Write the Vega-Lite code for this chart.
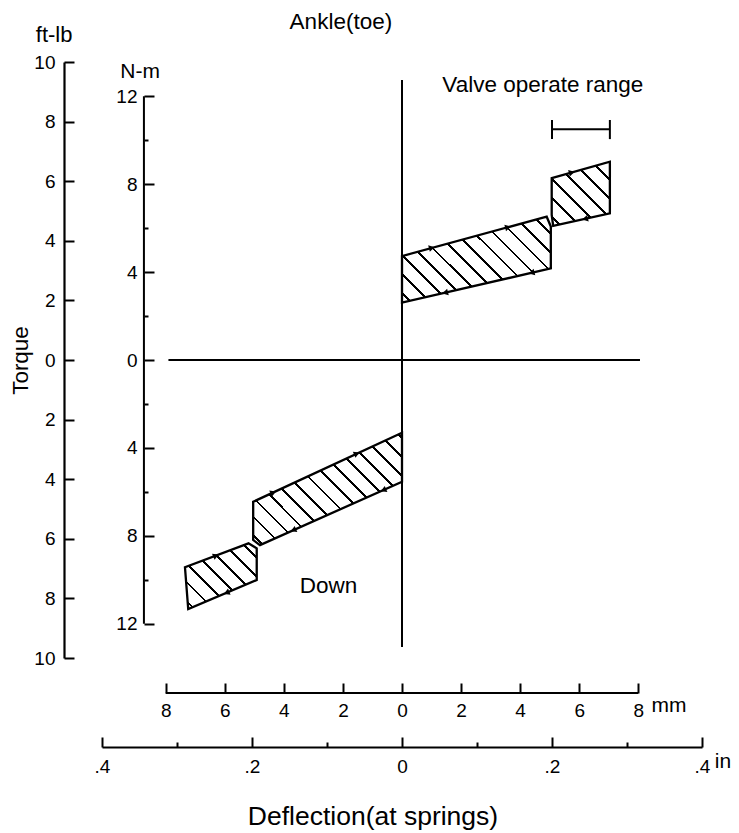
{
  "$schema": "https://vega.github.io/schema/vega-lite/v6.json",
  "width": 600,
  "height": 596,
  "autosize": {"type": "none"},
  "padding": {"left": 102, "top": 62, "right": 37, "bottom": 175},
  "background": "white",
  "config": {
    "view": {"stroke": null},
    "axis": {"labelFont": "Liberation Sans", "titleFont": "Liberation Sans", "labelColor": "black", "tickColor": "black", "domainColor": "black", "titleColor": "black", "grid": false, "titleFontWeight": "normal", "labelFontSize": 19, "domainWidth": 2.2, "tickWidth": 2, "labelFlush": false, "labelOverlap": false},
    "text": {"font": "Liberation Sans", "fontSize": 22.5, "color": "black"}
  },
  "datasets": {
    "segs": [
      {"part": "vertical axis", "x": 0, "y": 12.74, "x2": 0, "y2": -13.06},
      {"part": "zero torque", "x": -7.91, "y": 0, "x2": 8.06, "y2": 0},
      {"part": "N-m scale", "x": -8.74, "y": 12, "x2": -8.74, "y2": -12},
      {"part": "mm scale", "x": -8, "y": -15.15, "x2": 8, "y2": -15.15},
      {"part": "valve range", "x": 5.08, "y": 10.5, "x2": 7.04, "y2": 10.5},
      {"part": "valve start", "x": 5.08, "y": 10.92, "x2": 5.08, "y2": 10.05},
      {"part": "valve end", "x": 7.04, "y": 10.92, "x2": 7.04, "y2": 10.05}
    ],
    "polys": [
      {"band": "U1", "i": 0, "x": 0, "y": 2.61},
      {"band": "U1", "i": 1, "x": 0, "y": 4.73},
      {"band": "U1", "i": 2, "x": 4.9, "y": 6.52},
      {"band": "U1", "i": 3, "x": 5.04, "y": 6.07},
      {"band": "U1", "i": 4, "x": 5.04, "y": 4.17},
      {"band": "U2", "i": 0, "x": 5.07, "y": 8.27},
      {"band": "U2", "i": 1, "x": 7.04, "y": 9.02},
      {"band": "U2", "i": 2, "x": 7.04, "y": 6.67},
      {"band": "U2", "i": 3, "x": 5.12, "y": 6.1},
      {"band": "U2", "i": 4, "x": 5.07, "y": 6.6},
      {"band": "L1", "i": 0, "x": 0, "y": -3.31},
      {"band": "L1", "i": 1, "x": -5.04, "y": -6.45},
      {"band": "L1", "i": 2, "x": -5.04, "y": -8.19},
      {"band": "L1", "i": 3, "x": -4.81, "y": -8.42},
      {"band": "L1", "i": 4, "x": 0, "y": -5.54},
      {"band": "L2", "i": 0, "x": -5.2, "y": -8.34},
      {"band": "L2", "i": 1, "x": -7.35, "y": -9.43},
      {"band": "L2", "i": 2, "x": -7.24, "y": -11.33},
      {"band": "L2", "i": 3, "x": -4.92, "y": -10.01},
      {"band": "L2", "i": 4, "x": -4.92, "y": -8.57}
    ],
    "arrows": [
      {"x": 1.01, "y": 5.1, "dir": "right"},
      {"x": 3.59, "y": 6.04, "dir": "right"},
      {"x": 5.75, "y": 8.53, "dir": "right"},
      {"x": 1.46, "y": 3.06, "dir": "left"},
      {"x": 4.39, "y": 3.97, "dir": "left"},
      {"x": 6.2, "y": 6.42, "dir": "left"},
      {"x": -1.53, "y": -4.26, "dir": "right"},
      {"x": -4.36, "y": -6.03, "dir": "right"},
      {"x": -6.3, "y": -8.9, "dir": "right"},
      {"x": -0.63, "y": -5.92, "dir": "left"},
      {"x": -3.68, "y": -7.74, "dir": "left"},
      {"x": -5.94, "y": -10.59, "dir": "left"}
    ],
    "notes": [
      {"kind": "note", "label": "Ankle(toe)", "x": -2.07, "y": 15.04},
      {"kind": "unit", "label": "N-m", "x": -8.87, "y": 12.82},
      {"kind": "note", "label": "Valve operate range", "x": 4.77, "y": 12.21},
      {"kind": "note", "label": "Down", "x": -2.49, "y": -10.61},
      {"kind": "unit", "label": "mm", "x": 9.04, "y": -16.0}
    ]
  },
  "layer": [
    {
      "encoding": {
        "x": {"field": "x", "type": "quantitative", "scale": {"domain": [-10.16, 10.16], "nice": false, "zero": false},
          "axis": {"orient": "bottom", "offset": 35, "domain": false, "values": [-8, -6, -4, -2, 0, 2, 4, 6, 8], "tickSize": -10, "labelPadding": 18, "labelExpr": "format(abs(datum.value), 'd')", "title": null}},
        "y": {"field": "y", "type": "quantitative", "scale": {"domain": [-13.558, 13.558], "nice": false, "zero": false},
          "axis": {"orient": "left", "offset": -42, "domain": false, "values": [-12, -10, -8, -6, -4, -2, 0, 2, 4, 6, 8, 10, 12], "tickSize": {"condition": {"test": "datum.value % 4 == 0", "value": -10}, "value": -4}, "labelPadding": 17, "labelExpr": "datum.value % 4 == 0 ? format(abs(datum.value), 'd') : ''", "title": null}}
      },
      "layer": [
        {
          "data": {"name": "segs"},
          "mark": {"type": "rule", "color": "black", "strokeWidth": 2},
          "encoding": {"x2": {"field": "x2"}, "y2": {"field": "y2"}}
        },
        {
          "data": {"name": "polys"},
          "transform": [{"filter": "datum.band == 'U1'"}],
          "mark": {"type": "line", "interpolate": "linear-closed", "stroke": "black", "strokeWidth": 2.3,
            "fill": {"gradient": "linear", "x1": 0, "y1": 1, "x2": 1.183, "y2": 0.316, "stops": [
              {"offset": 0, "color": "white"},
              {"offset": 0.034, "color": "white"}, {"offset": 0.034, "color": "black"}, {"offset": 0.046, "color": "black"}, {"offset": 0.046, "color": "white"},
              {"offset": 0.115, "color": "white"}, {"offset": 0.115, "color": "black"}, {"offset": 0.127, "color": "black"}, {"offset": 0.127, "color": "white"},
              {"offset": 0.196, "color": "white"}, {"offset": 0.196, "color": "black"}, {"offset": 0.208, "color": "black"}, {"offset": 0.208, "color": "white"},
              {"offset": 0.277, "color": "white"}, {"offset": 0.277, "color": "black"}, {"offset": 0.289, "color": "black"}, {"offset": 0.289, "color": "white"},
              {"offset": 0.357, "color": "white"}, {"offset": 0.357, "color": "black"}, {"offset": 0.369, "color": "black"}, {"offset": 0.369, "color": "white"},
              {"offset": 0.438, "color": "white"}, {"offset": 0.438, "color": "black"}, {"offset": 0.45, "color": "black"}, {"offset": 0.45, "color": "white"},
              {"offset": 0.519, "color": "white"}, {"offset": 0.519, "color": "black"}, {"offset": 0.531, "color": "black"}, {"offset": 0.531, "color": "white"},
              {"offset": 0.599, "color": "white"}, {"offset": 0.599, "color": "black"}, {"offset": 0.611, "color": "black"}, {"offset": 0.611, "color": "white"},
              {"offset": 0.68, "color": "white"}, {"offset": 0.68, "color": "black"}, {"offset": 0.692, "color": "black"}, {"offset": 0.692, "color": "white"},
              {"offset": 0.761, "color": "white"}, {"offset": 0.761, "color": "black"}, {"offset": 0.773, "color": "black"}, {"offset": 0.773, "color": "white"},
              {"offset": 0.841, "color": "white"}, {"offset": 0.841, "color": "black"}, {"offset": 0.853, "color": "black"}, {"offset": 0.853, "color": "white"},
              {"offset": 0.922, "color": "white"}, {"offset": 0.922, "color": "black"}, {"offset": 0.934, "color": "black"}, {"offset": 0.934, "color": "white"},
              {"offset": 1, "color": "white"}
            ]}},
          "encoding": {"order": {"field": "i", "type": "quantitative"}}
        },
        {
          "data": {"name": "polys"},
          "transform": [{"filter": "datum.band == 'U2'"}],
          "mark": {"type": "line", "interpolate": "linear-closed", "stroke": "black", "strokeWidth": 2.3,
            "fill": {"gradient": "linear", "x1": 0, "y1": 1, "x2": 0.949, "y2": -0.047, "stops": [
              {"offset": 0, "color": "white"},
              {"offset": 0.066, "color": "white"}, {"offset": 0.066, "color": "black"}, {"offset": 0.089, "color": "black"}, {"offset": 0.089, "color": "white"},
              {"offset": 0.221, "color": "white"}, {"offset": 0.221, "color": "black"}, {"offset": 0.244, "color": "black"}, {"offset": 0.244, "color": "white"},
              {"offset": 0.375, "color": "white"}, {"offset": 0.375, "color": "black"}, {"offset": 0.398, "color": "black"}, {"offset": 0.398, "color": "white"},
              {"offset": 0.53, "color": "white"}, {"offset": 0.53, "color": "black"}, {"offset": 0.553, "color": "black"}, {"offset": 0.553, "color": "white"},
              {"offset": 0.685, "color": "white"}, {"offset": 0.685, "color": "black"}, {"offset": 0.708, "color": "black"}, {"offset": 0.708, "color": "white"},
              {"offset": 0.839, "color": "white"}, {"offset": 0.839, "color": "black"}, {"offset": 0.862, "color": "black"}, {"offset": 0.862, "color": "white"},
              {"offset": 1, "color": "white"}
            ]}},
          "encoding": {"order": {"field": "i", "type": "quantitative"}}
        },
        {
          "data": {"name": "polys"},
          "transform": [{"filter": "datum.band == 'L1'"}],
          "mark": {"type": "line", "interpolate": "linear-closed", "stroke": "black", "strokeWidth": 2.3,
            "fill": {"gradient": "linear", "x1": 0, "y1": 1, "x2": 1.118, "y2": 0.157, "stops": [
              {"offset": 0, "color": "white"},
              {"offset": 0.031, "color": "white"}, {"offset": 0.031, "color": "black"}, {"offset": 0.042, "color": "black"}, {"offset": 0.042, "color": "white"},
              {"offset": 0.104, "color": "white"}, {"offset": 0.104, "color": "black"}, {"offset": 0.114, "color": "black"}, {"offset": 0.114, "color": "white"},
              {"offset": 0.176, "color": "white"}, {"offset": 0.176, "color": "black"}, {"offset": 0.187, "color": "black"}, {"offset": 0.187, "color": "white"},
              {"offset": 0.249, "color": "white"}, {"offset": 0.249, "color": "black"}, {"offset": 0.26, "color": "black"}, {"offset": 0.26, "color": "white"},
              {"offset": 0.321, "color": "white"}, {"offset": 0.321, "color": "black"}, {"offset": 0.332, "color": "black"}, {"offset": 0.332, "color": "white"},
              {"offset": 0.394, "color": "white"}, {"offset": 0.394, "color": "black"}, {"offset": 0.405, "color": "black"}, {"offset": 0.405, "color": "white"},
              {"offset": 0.467, "color": "white"}, {"offset": 0.467, "color": "black"}, {"offset": 0.477, "color": "black"}, {"offset": 0.477, "color": "white"},
              {"offset": 0.539, "color": "white"}, {"offset": 0.539, "color": "black"}, {"offset": 0.55, "color": "black"}, {"offset": 0.55, "color": "white"},
              {"offset": 0.612, "color": "white"}, {"offset": 0.612, "color": "black"}, {"offset": 0.623, "color": "black"}, {"offset": 0.623, "color": "white"},
              {"offset": 0.684, "color": "white"}, {"offset": 0.684, "color": "black"}, {"offset": 0.695, "color": "black"}, {"offset": 0.695, "color": "white"},
              {"offset": 0.757, "color": "white"}, {"offset": 0.757, "color": "black"}, {"offset": 0.768, "color": "black"}, {"offset": 0.768, "color": "white"},
              {"offset": 0.83, "color": "white"}, {"offset": 0.83, "color": "black"}, {"offset": 0.84, "color": "black"}, {"offset": 0.84, "color": "white"},
              {"offset": 0.902, "color": "white"}, {"offset": 0.902, "color": "black"}, {"offset": 0.913, "color": "black"}, {"offset": 0.913, "color": "white"},
              {"offset": 0.975, "color": "white"}, {"offset": 0.975, "color": "black"}, {"offset": 0.985, "color": "black"}, {"offset": 0.985, "color": "white"},
              {"offset": 1, "color": "white"}
            ]}},
          "encoding": {"order": {"field": "i", "type": "quantitative"}}
        },
        {
          "data": {"name": "polys"},
          "transform": [{"filter": "datum.band == 'L2'"}],
          "mark": {"type": "line", "interpolate": "linear-closed", "stroke": "black", "strokeWidth": 2.3,
            "fill": {"gradient": "linear", "x1": 0, "y1": 1, "x2": 1.042, "y2": 0.046, "stops": [
              {"offset": 0, "color": "white"},
              {"offset": 0.059, "color": "white"}, {"offset": 0.059, "color": "black"}, {"offset": 0.079, "color": "black"}, {"offset": 0.079, "color": "white"},
              {"offset": 0.197, "color": "white"}, {"offset": 0.197, "color": "black"}, {"offset": 0.217, "color": "black"}, {"offset": 0.217, "color": "white"},
              {"offset": 0.334, "color": "white"}, {"offset": 0.334, "color": "black"}, {"offset": 0.355, "color": "black"}, {"offset": 0.355, "color": "white"},
              {"offset": 0.472, "color": "white"}, {"offset": 0.472, "color": "black"}, {"offset": 0.493, "color": "black"}, {"offset": 0.493, "color": "white"},
              {"offset": 0.61, "color": "white"}, {"offset": 0.61, "color": "black"}, {"offset": 0.631, "color": "black"}, {"offset": 0.631, "color": "white"},
              {"offset": 0.748, "color": "white"}, {"offset": 0.748, "color": "black"}, {"offset": 0.769, "color": "black"}, {"offset": 0.769, "color": "white"},
              {"offset": 0.886, "color": "white"}, {"offset": 0.886, "color": "black"}, {"offset": 0.907, "color": "black"}, {"offset": 0.907, "color": "white"},
              {"offset": 1, "color": "white"}
            ]}},
          "encoding": {"order": {"field": "i", "type": "quantitative"}}
        },
        {
          "data": {"name": "arrows"},
          "transform": [{"filter": "datum.y > 0"}],
          "mark": {"type": "point", "filled": true, "color": "black", "opacity": 1, "size": 45, "angle": -14},
          "encoding": {"shape": {"field": "dir", "type": "nominal", "scale": {"domain": ["right", "left"], "range": ["triangle-right", "triangle-left"]}, "legend": null}}
        },
        {
          "data": {"name": "arrows"},
          "transform": [{"filter": "datum.y < 0"}],
          "mark": {"type": "point", "filled": true, "color": "black", "opacity": 1, "size": 45, "angle": -23},
          "encoding": {"shape": {"field": "dir", "type": "nominal", "scale": {"domain": ["right", "left"], "range": ["triangle-right", "triangle-left"]}, "legend": null}}
        },
        {
          "data": {"name": "notes"},
          "transform": [{"filter": "datum.kind == 'note'"}],
          "mark": {"type": "text", "align": "center", "baseline": "alphabetic", "fontSize": 22.5},
          "encoding": {"text": {"field": "label"}}
        },
        {
          "data": {"name": "notes"},
          "transform": [{"filter": "datum.kind == 'unit'"}],
          "mark": {"type": "text", "align": "center", "baseline": "alphabetic", "fontSize": 21},
          "encoding": {"text": {"field": "label"}}
        }
      ]
    },
    {
      "data": {"values": [{"label": "ft-lb", "x": -11.78, "ftlb": 10.68}]},
      "mark": {"type": "text", "align": "center", "baseline": "alphabetic", "fontSize": 22},
      "encoding": {
        "x": {"field": "x", "type": "quantitative", "scale": {"domain": [-10.16, 10.16], "nice": false, "zero": false}, "axis": null},
        "y": {"field": "ftlb", "type": "quantitative", "scale": {"domain": [-10, 10], "nice": false, "zero": false},
          "axis": {"orient": "left", "offset": 38, "domain": true, "values": [-10, -8, -6, -4, -2, 0, 2, 4, 6, 8, 10], "tickSize": -10, "labelPadding": 19, "labelExpr": "format(abs(datum.value), 'd')", "title": "Torque", "titleFontSize": 22.4, "titlePadding": 1}},
        "text": {"field": "label"}
      }
    },
    {
      "data": {"values": [
        {"kind": "unit", "label": "in", "inch": 0.428, "y": -18.58},
        {"kind": "title", "label": "Deflection(at springs)", "inch": -0.0387, "y": -21.16}
      ]},
      "encoding": {
        "x": {"field": "inch", "type": "quantitative", "scale": {"domain": [-0.4, 0.4], "nice": false, "zero": false},
          "axis": {"orient": "bottom", "offset": 89, "domain": true, "values": [-0.4, -0.3, -0.2, -0.1, 0, 0.1, 0.2, 0.3, 0.4], "tickSize": {"condition": {"test": "abs(round(datum.value * 10)) % 2 == 0", "value": -10}, "value": -5}, "labelPadding": 20, "labelExpr": "datum.value == 0 ? '0' : (abs(round(datum.value * 10)) % 2 == 0 ? substring(format(abs(datum.value), '.1f'), 1) : '')", "title": null}},
        "y": {"field": "y", "type": "quantitative", "scale": {"domain": [-13.558, 13.558], "nice": false, "zero": false}, "axis": null},
        "text": {"field": "label"}
      },
      "layer": [
        {
          "transform": [{"filter": "datum.kind == 'unit'"}],
          "mark": {"type": "text", "align": "center", "baseline": "alphabetic", "fontSize": 21}
        },
        {
          "transform": [{"filter": "datum.kind == 'title'"}],
          "mark": {"type": "text", "align": "center", "baseline": "alphabetic", "fontSize": 26.5}
        }
      ]
    }
  ],
  "resolve": {"scale": {"x": "independent", "y": "independent"}}
}
